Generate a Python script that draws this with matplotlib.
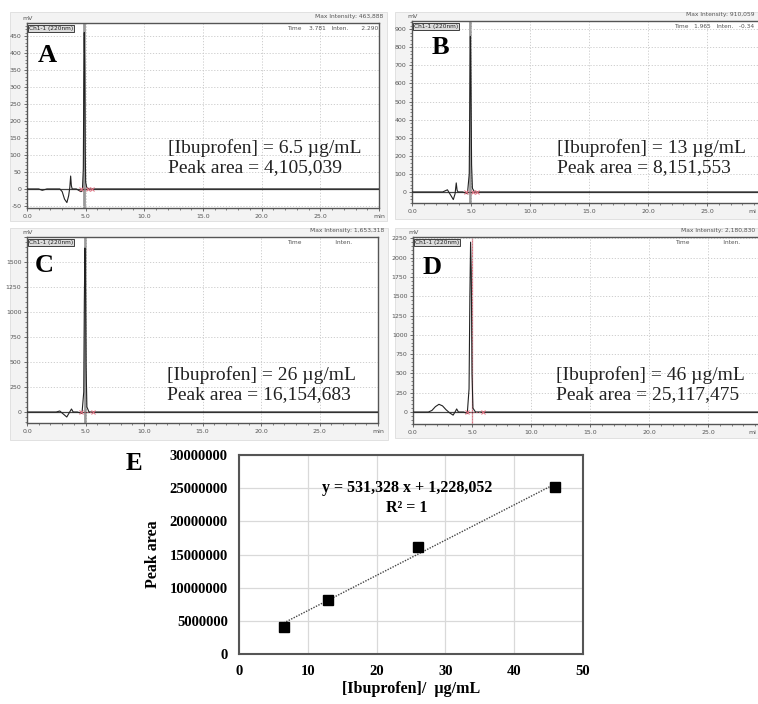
import numpy as np
import matplotlib
matplotlib.use("Agg")
import matplotlib.pyplot as plt
from matplotlib.patches import Rectangle
from matplotlib.ticker import MultipleLocator, FuncFormatter

W, H = 758, 704

# ── datos de los cromatogramas (tiempo en min, señal en mV) ───────────────────
labels = ["A", "B", "C", "D"]
conc = ["6.5", "13", "26", "46"]
areas = ["4,105,039", "8,151,553", "16,154,683", "25,117,475"]
max_int = ["463,888", "910,059", "1,653,318", "2,180,830"]
time_txt = ["Time    3.781   Inten.       2.290", "Time   1.965   Inten.   -0.34",
            "Time                  Inten.", "Time                  Inten."]

trace_A_t = [0, 1.0, 1.3, 1.7, 2.8, 3.0, 3.2, 3.4, 3.55, 3.65, 3.72, 3.78, 3.85, 4.2, 4.6, 4.72,
             4.8, 4.84, 4.88, 4.92, 4.96, 5.0, 5.1, 5.4, 30]
trace_A_v = [0, 0, -4, 0, 0, -8, -30, -40, -20, 5, 38, 10, 0, 0, -8, -5,
             60, 300, 460, 350, 120, 20, 3, 0, 0]
trace_B_t = [0, 2.6, 3.0, 3.3, 3.5, 3.65, 3.75, 3.82, 3.9, 4.3, 4.7, 4.85, 4.9, 4.95, 5.0,
             5.05, 5.12, 5.3, 30]
trace_B_v = [0, 0, 12, -20, -42, -10, 50, 10, 0, 0, -10, 100, 500, 860, 550, 150, 20, 0, 0]
trace_C_t = [0, 2.5, 2.8, 3.1, 3.4, 3.6, 3.8, 3.95, 4.3, 4.7, 4.85, 4.9, 4.95, 5.0, 5.05,
             5.12, 5.3, 30]
trace_C_v = [0, 0, 10, -20, -50, -10, 30, 0, 0, -15, 200, 1100, 1640, 1300, 450, 50, 0, 0]
trace_D_t = [0, 1.3, 1.6, 1.9, 2.2, 2.5, 2.8, 3.1, 3.4, 3.6, 3.7, 3.85, 4.3, 4.6, 4.75, 4.82,
             4.88, 4.94, 5.0, 5.08, 5.3, 30]
trace_D_v = [0, 0, 20, 70, 100, 80, 30, -10, -40, 10, 40, 0, 0, -20, 300, 1500, 2200, 1800,
             500, 50, 0, 0]
traces = [(trace_A_t, trace_A_v), (trace_B_t, trace_B_v), (trace_C_t, trace_C_v), (trace_D_t, trace_D_v)]
peak_t = [4.88, 4.95, 4.95, 5.0]
red_marks_t = [[4.6, 5.2, 5.5], [4.6, 5.2, 5.5], [4.6, 5.6], [4.6, 5.9]]

ylims = [(-56, 488), (-61, 945), (-110, 1750), (-155, 2267)]
ysteps = [50, 100, 250, 250]
ymax_tick = [450, 900, 1500, 2250]

# posiciones en pixeles: marco (l, t, r, b) y ejes (l, t, r, b)
frames = [(10, 12, 387, 221), (395, 12, 770, 219), (10, 228, 388, 440), (395, 228, 770, 438)]
axpos = [(27, 23, 379, 208), (412, 21, 766, 203), (27, 237, 378, 423), (413, 237, 767, 424)]
letter_pos = [(47, 55), (440, 48), (44, 265), (432, 268)]
text_pos = [(168, 148), (557, 148), (167, 375), (556, 375)]

# ── datos de la curva de calibración ─────────────────────────────────────────
conc_vals = [6.5, 13, 26, 46]
area_vals = [4105039, 8151553, 16154683, 25117475]

fig = plt.figure(figsize=(W / 100, H / 100), dpi=100)
fig.patch.set_facecolor("white")

SERIF = "Liberation Serif"
SANS = "DejaVu Sans"


def px_axes(l, t, r, b):
    return fig.add_axes([l / W, 1 - b / H, (r - l) / W, (b - t) / H])


for i in range(4):
    fl, ft, fr, fb = frames[i]
    fig.patches.append(Rectangle((fl / W, 1 - fb / H), (fr - fl) / W, (fb - ft) / H,
                                 transform=fig.transFigure, facecolor="#f3f3f3",
                                 edgecolor="#dddddd", lw=0.6, zorder=-5))
    ax = px_axes(*axpos[i])
    ax.set_zorder(1)
    ax.set_facecolor("white")
    t, v = traces[i]
    cortado = axpos[i][2] > W
    ax.set_xlim(0, 30)
    ax.set_ylim(*ylims[i])
    ax.xaxis.set_major_locator(MultipleLocator(5))
    ax.xaxis.set_minor_locator(MultipleLocator(1))
    ax.yaxis.set_major_locator(MultipleLocator(ysteps[i]))
    ax.yaxis.set_minor_locator(MultipleLocator(ysteps[i] / 5))
    ax.xaxis.set_major_formatter(FuncFormatter(
        lambda x, p, c=cortado: ("" if c else "min") if x >= 30 else f"{x:.1f}"))
    ax.yaxis.set_major_formatter(FuncFormatter(lambda y, p, m=ymax_tick[i]: f"{y:.0f}" if y <= m else ""))
    ax.tick_params(labelsize=4.5, colors="#555555", length=2.5, width=0.6, pad=1.5)
    ax.tick_params(which="minor", length=1.5, width=0.5, colors="#555555")
    ax.grid(True, which="major", color="#c8c8c8", ls=(0, (1.5, 2)), lw=0.6)
    for s in ax.spines.values():
        s.set_color("#555555")
        s.set_linewidth(1.0)
    cursor_col = "#e07080" if i == 3 else "#9a9a9a"
    ax.axvline(peak_t[i], color=cursor_col, lw=0.9 if i == 3 else 2.0, zorder=1)
    ax.axhline(0, color="#444444", lw=0.9, zorder=2)
    ax.plot(t, v, color="#222222", lw=0.8, zorder=3)
    rt = red_marks_t[i]
    ax.plot([rt[0], rt[-1]], [0, 0], color="#e07080", lw=0.8, ls=":", zorder=4)
    ax.plot(rt, [0] * len(rt), ls="none", marker="x", ms=2.5, mew=0.7, color="#e07080", zorder=4)

    l, tp, r, b = axpos[i]
    if cortado:
        # la etiqueta "min" queda en el borde de la imagen
        fig.text(756 / W, 1 - (b + 8) / H, "mi", fontsize=4.5, color="#555555",
                 family=SANS, ha="right", va="center")
    fig.text((l - 5) / W, 1 - (tp - 3) / H, "mV", fontsize=4.5, color="#555555", family=SANS)
    fig.text(min(fr - 4, 755) / W, 1 - (tp - 5) / H, "Max Intensity: " + max_int[i], fontsize=4.3,
             color="#555555", family=SANS, ha="right")
    ax.text(0.005, 0.985, "Ch1-1 (220nm)", transform=ax.transAxes, fontsize=4.2, color="#222222",
            family=SANS, va="top", ha="left",
            bbox=dict(boxstyle="square,pad=0.15", fc="#dddddd", ec="#222222", lw=0.6))
    ax.text(0.74, 0.985, time_txt[i], transform=ax.transAxes, fontsize=4.2, color="#555555",
            family=SANS, va="top", ha="left")

    fig.text(letter_pos[i][0] / W, 1 - letter_pos[i][1] / H, labels[i], fontsize=19,
             fontweight="bold", family=SERIF, ha="center", va="center", zorder=5)
    tx, ty = text_pos[i]
    fig.text(tx / W, 1 - ty / H, f"[Ibuprofen] = {conc[i]} µg/mL", fontsize=14,
             family=SERIF, ha="left", va="center", color="#222222", zorder=5)
    fig.text(tx / W, 1 - (ty + 20) / H, f"Peak area = {areas[i]}", fontsize=14,
             family=SERIF, ha="left", va="center", color="#222222", zorder=5)

# ── panel E: curva de calibración ─────────────────────────────────────────────
axE = px_axes(239, 455, 583, 654)
pend, inter = np.polyfit(conc_vals, area_vals, 1)
xs = np.array([conc_vals[0], conc_vals[-1]])
axE.plot(xs, pend * xs + inter, color="#444444", lw=1.0, ls=(0, (1, 1)), zorder=2)
axE.plot(conc_vals, area_vals, ls="none", marker="s", ms=7, color="black", zorder=3)
axE.set_xlim(0, 50)
axE.set_ylim(0, 30000000)
axE.xaxis.set_major_locator(MultipleLocator(10))
axE.yaxis.set_major_locator(MultipleLocator(5000000))
axE.yaxis.set_major_formatter(FuncFormatter(lambda y, p: f"{y:.0f}"))
axE.grid(True, color="#d9d9d9", lw=0.9)
axE.set_axisbelow(True)
axE.tick_params(length=0, pad=8, labelsize=10.5)
for lab in axE.get_xticklabels() + axE.get_yticklabels():
    lab.set_fontfamily(SERIF)
    lab.set_fontweight("bold")
for s in axE.spines.values():
    s.set_color("#555555")
    s.set_linewidth(1.5)
axE.set_xlabel("[Ibuprofen]/  µg/mL", fontsize=11.5, fontweight="bold", family=SERIF, labelpad=2)
axE.set_ylabel("Peak area", fontsize=11.5, fontweight="bold", family=SERIF, labelpad=6)
fig.text(407 / W, 1 - 488 / H, "y = 531,328 x + 1,228,052", fontsize=11.5, fontweight="bold",
         family=SERIF, ha="center", va="center")
fig.text(407 / W, 1 - 508 / H, "R² = 1", fontsize=11.5, fontweight="bold",
         family=SERIF, ha="center", va="center")
fig.text(134 / W, 1 - 464 / H, "E", fontsize=18, fontweight="bold", family=SERIF,
         ha="center", va="center")

fig.savefig("out.png", dpi=100)
